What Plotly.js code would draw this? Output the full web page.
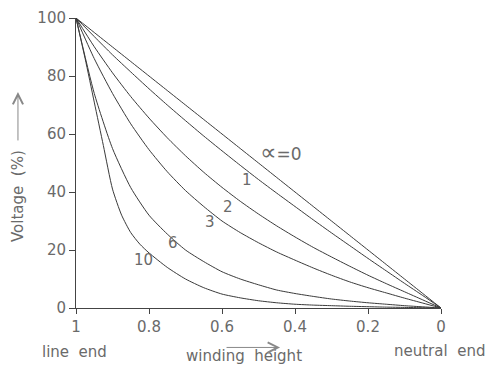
<!DOCTYPE html>
<html>
<head>
<meta charset="utf-8">
<script src="https://cdn.plot.ly/plotly-3.0.1.min.js"></script>
<style>html,body{margin:0;padding:0;background:#fff;}#chart{width:487px;height:365px;}</style>
</head>
<body>
<div id="chart"></div>
<script>
// winding height positions (1 = line end, 0 = neutral end)
const xGrid = [1,0.95,0.9,0.85,0.8,0.75,0.7,0.65,0.6,0.55,0.5,0.45,0.4,0.35,0.3,0.25,0.2,0.15,0.1,0.05,0];
const xFine = [1,0.975,0.95,0.925,0.9,0.875,0.85,0.825,0.8,0.75,0.7,0.65,0.6,0.55,0.5,0.45,0.4,0.35,0.3,0.25,0.2,0.15,0.1,0.05,0];
// voltage (%) for each alpha
const alpha0 = [100,95,90,85,80,75,70,65,60,55,50,45,40,35,30,25,20,15,10,5,0];
const alpha1 = [100,93.6,87.3,81.4,75.6,70.0,64.6,59.3,54.2,49.2,44.3,39.6,35.0,30.4,25.9,21.5,17.1,12.8,8.5,4.3,0];
const alpha2 = [100,90.1,81.1,72.9,65.5,58.7,52.5,46.8,41.6,36.8,32.4,28.3,24.5,20.9,17.6,14.4,11.3,8.4,5.6,2.8,0];
const alpha3 = [100,86,74,63.5,54.6,47,40.5,35,30,26,22.5,19.3,16.5,13.8,11.3,9,7,5.2,3.4,1.7,0];
const alpha6 = [100,74,55,41.5,32,25.5,20,16,12.5,10,8,6.2,5,4,3.1,2.4,1.8,1.3,0.8,0.4,0];
const alpha10 = [100,86,71,56,41,32,26,22,19,14,10,7,4.8,3.5,2.5,1.8,1.3,1.0,0.8,0.6,0.45,0.3,0.2,0.1,0];

const xTicks = [1,0.8,0.6,0.4,0.2,0];
const xTickText = ['1','0.8','0.6','0.4','0.2','0'];
const yTicks = [0,20,40,60,80,100];
const yTickText = ['0','20','40','60','80','100'];

const curveLabels = ['<span style="font-size:23px">\u221D</span>=0','1','2','3','6','10'];
const labelX = [0.438,0.532,0.584,0.632,0.735,0.814];
const labelY = [53.8,44.1,34.9,29.8,22.3,16.6];

const lineColor = '#3a3a3a';
const textColor = '#6a6a6a';
const fontFam = 'DejaVu Sans, Liberation Sans, sans-serif';

function tr(x, y){
  return {x:x, y:y, type:'scatter', mode:'lines', line:{color:lineColor, width:1, shape:'spline', smoothing:0.6}, hoverinfo:'skip', showlegend:false};
}
const data = [
  tr(xGrid, alpha0), tr(xGrid, alpha1), tr(xGrid, alpha2),
  tr(xGrid, alpha3), tr(xGrid, alpha6), tr(xFine, alpha10)
];

const annotations = curveLabels.map((t,i)=>({
  x: labelX[i], y: labelY[i], xref:'x', yref:'y', text: t, showarrow:false,
  xanchor:'center', yanchor:'middle',
  font:{family:fontFam, size: i===0 ? 17 : 15, color:textColor}
}));
annotations.push(
  {x:-0.003, y:-0.152, xref:'paper', yref:'paper', xanchor:'center', yanchor:'middle', text:'line  end', showarrow:false, font:{family:fontFam,size:15,color:textColor}},
  {x:0.46, y:-0.167, xref:'paper', yref:'paper', xanchor:'center', yanchor:'middle', text:'winding  height', showarrow:false, font:{family:fontFam,size:15,color:textColor}},
  {x:0.995, y:-0.148, xref:'paper', yref:'paper', xanchor:'center', yanchor:'middle', text:'neutral  end', showarrow:false, font:{family:fontFam,size:15,color:textColor}},
  {x:0.559, y:-0.136, xref:'paper', yref:'paper', text:'', showarrow:true, ax:-55, ay:0, arrowhead:5, arrowsize:2, arrowwidth:1, arrowcolor:'#888'},
  {x:-0.159, y:0.745, xref:'paper', yref:'paper', text:'', showarrow:true, ax:0, ay:50, arrowhead:5, arrowsize:2, arrowwidth:1, arrowcolor:'#888'},
  {x:-0.159, y:0.386, xref:'paper', yref:'paper', xanchor:'center', yanchor:'middle', text:'Voltage  (%)', textangle:-90, showarrow:false, font:{family:fontFam,size:15,color:textColor}}
);

const layout = {
  width:487, height:365,
  margin:{l:76, r:46, t:18, b:57},
  paper_bgcolor:'#fff', plot_bgcolor:'#fff',
  showlegend:false,
  xaxis:{range:[1,0], tickvals:xTicks, ticktext:xTickText, showgrid:false, zeroline:false,
         showline:true, linecolor:'#444', linewidth:1, ticks:'outside', ticklen:5, tickcolor:'#444',
         tickfont:{family:fontFam,size:15,color:textColor}},
  yaxis:{range:[0,100], tickvals:yTicks, ticktext:yTickText, showgrid:false, zeroline:false,
         showline:true, linecolor:'#444', linewidth:1, ticks:'outside', ticklen:6, tickcolor:'#444',
         tickfont:{family:fontFam,size:15,color:textColor}},
  annotations: annotations
};

Plotly.newPlot('chart', data, layout, {staticPlot:true, displayModeBar:false});
</script>
</body>
</html>
